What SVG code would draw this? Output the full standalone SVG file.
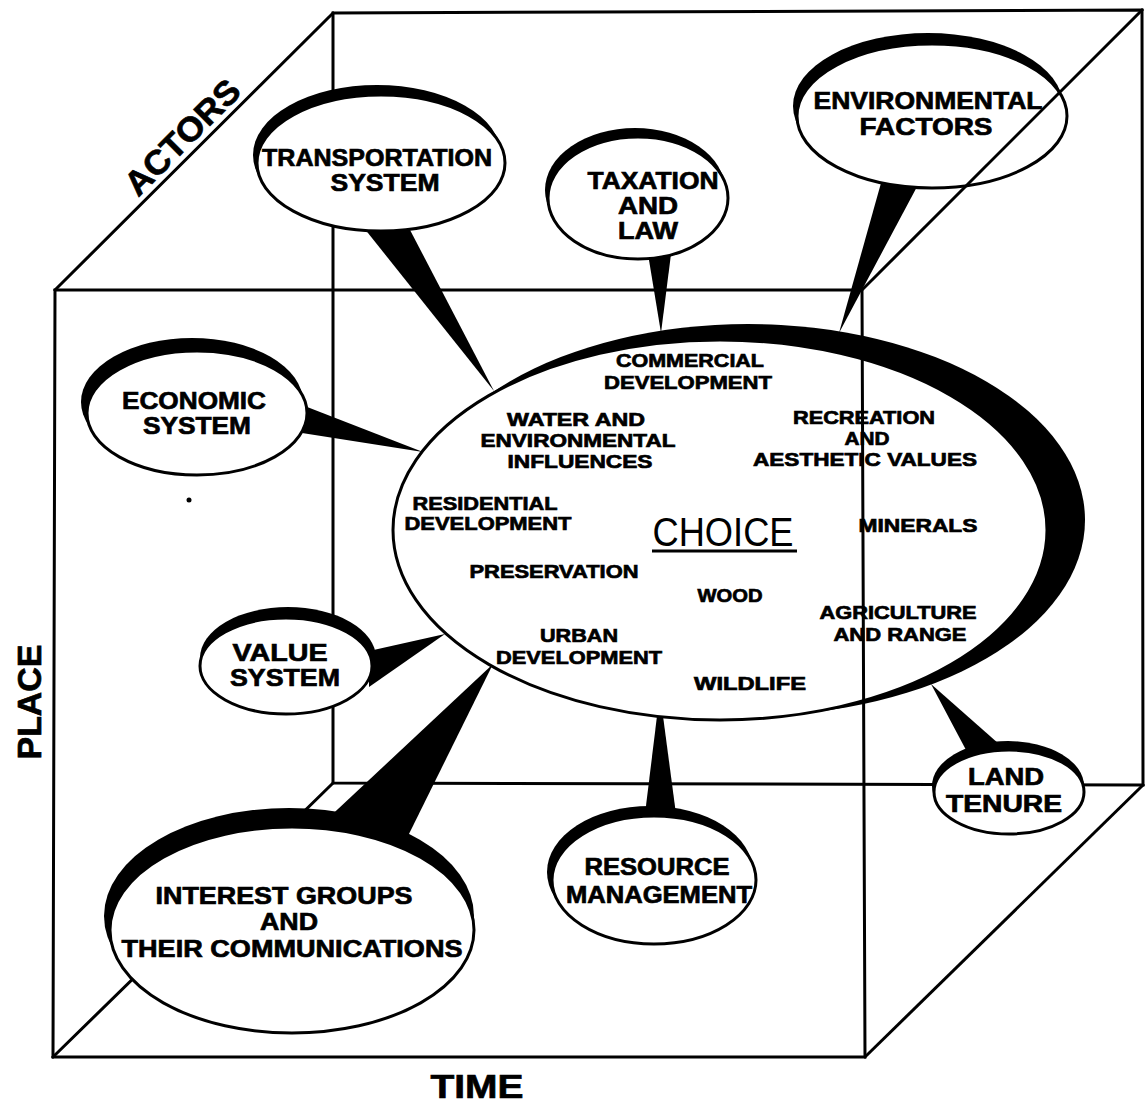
<svg xmlns="http://www.w3.org/2000/svg" width="1146" height="1106" viewBox="0 0 1146 1106">
<style>
.cube{stroke:#000;stroke-width:3;fill:none;stroke-linecap:square}
.shadow{fill:#000}
.bubble{fill:#fff;stroke:#000;stroke-width:3}
.wedge{fill:#000}
.t{font-family:"Liberation Sans",Arial,sans-serif;font-weight:bold;fill:#000;stroke:#000;stroke-width:0.7;text-anchor:middle}
.bt{font-size:24px}
.ct{font-size:19px}
.ax{font-size:34px}
</style>
<rect width="1146" height="1106" fill="#fff"/>
<g id="connectors">
<polygon class="wedge" points="364,228 409,228 494,391"/>
<polygon class="wedge" points="648,254 671,254 661,333"/>
<polygon class="wedge" points="881,183 919,183 839,333"/>
<polygon class="wedge" points="302,405 302,433 423,452"/>
<polygon class="wedge" points="369,651 369,687 445,634"/>
<polygon class="wedge" points="322,824 406,840 493,664"/>
<polygon class="wedge" points="645,814 676,814 663,716 657,716"/>
<polygon class="wedge" points="931,684 966,750 999,744"/>
</g>
<g id="choice">
<ellipse class="shadow" cx="748" cy="520" rx="337" ry="196"/>
<ellipse class="bubble" cx="720" cy="530" rx="327" ry="190"/>
<text class="t ct" x="690" y="367" textLength="148" lengthAdjust="spacingAndGlyphs">COMMERCIAL</text>
<text class="t ct" x="688" y="389" textLength="168" lengthAdjust="spacingAndGlyphs">DEVELOPMENT</text>
<text class="t ct" x="576" y="426" textLength="138" lengthAdjust="spacingAndGlyphs">WATER AND</text>
<text class="t ct" x="578" y="447" textLength="195" lengthAdjust="spacingAndGlyphs">ENVIRONMENTAL</text>
<text class="t ct" x="580" y="468" textLength="145" lengthAdjust="spacingAndGlyphs">INFLUENCES</text>
<text class="t ct" x="864" y="424" textLength="142" lengthAdjust="spacingAndGlyphs">RECREATION</text>
<text class="t ct" x="867" y="445" textLength="45" lengthAdjust="spacingAndGlyphs">AND</text>
<text class="t ct" x="865" y="466" textLength="224" lengthAdjust="spacingAndGlyphs">AESTHETIC VALUES</text>
<text class="t ct" x="485" y="510" textLength="145" lengthAdjust="spacingAndGlyphs">RESIDENTIAL</text>
<text class="t ct" x="488" y="530" textLength="167" lengthAdjust="spacingAndGlyphs">DEVELOPMENT</text>
<text x="723" y="546" font-family="'Liberation Sans',Arial,sans-serif" font-size="40" text-anchor="middle" textLength="141" lengthAdjust="spacingAndGlyphs">CHOICE</text>
<line x1="652" y1="551" x2="797" y2="551" stroke="#000" stroke-width="3"/>
<text class="t ct" x="918" y="532" textLength="119" lengthAdjust="spacingAndGlyphs">MINERALS</text>
<text class="t ct" x="554" y="578" textLength="169" lengthAdjust="spacingAndGlyphs">PRESERVATION</text>
<text class="t ct" x="730" y="602" textLength="65" lengthAdjust="spacingAndGlyphs">WOOD</text>
<text class="t ct" x="898" y="619" textLength="157" lengthAdjust="spacingAndGlyphs">AGRICULTURE</text>
<text class="t ct" x="900" y="641" textLength="133" lengthAdjust="spacingAndGlyphs">AND RANGE</text>
<text class="t ct" x="579" y="642" textLength="78" lengthAdjust="spacingAndGlyphs">URBAN</text>
<text class="t ct" x="579" y="664" textLength="166" lengthAdjust="spacingAndGlyphs">DEVELOPMENT</text>
<text class="t ct" x="750" y="690" textLength="112" lengthAdjust="spacingAndGlyphs">WILDLIFE</text>
</g>
<g id="environmental">
<ellipse class="shadow" cx="928" cy="106" rx="135" ry="73"/>
<ellipse class="bubble" cx="932" cy="116" rx="135" ry="72"/>
<text class="t bt" x="928" y="109" textLength="229" lengthAdjust="spacingAndGlyphs">ENVIRONMENTAL</text>
<text class="t bt" x="926" y="135" textLength="133" lengthAdjust="spacingAndGlyphs">FACTORS</text>
</g>
<g id="cube">
<polygon class="cube" points="55,290 862,290 865,1057 53,1057"/>
<polygon class="cube" points="333,13 1142,10 1143,785 333,783"/>
<line class="cube" x1="55" y1="290" x2="333" y2="13"/>
<line class="cube" x1="862" y1="290" x2="1142" y2="10"/>
<line class="cube" x1="53" y1="1057" x2="333" y2="783"/>
<line class="cube" x1="865" y1="1057" x2="1143" y2="785"/>
</g>
<g id="transportation">
<ellipse class="shadow" cx="377" cy="155" rx="124" ry="70"/>
<ellipse class="bubble" cx="381" cy="163" rx="124" ry="68"/>
<text class="t bt" x="377" y="166" textLength="230" lengthAdjust="spacingAndGlyphs">TRANSPORTATION</text>
<text class="t bt" x="385" y="191" textLength="109" lengthAdjust="spacingAndGlyphs">SYSTEM</text>
</g>
<g id="taxation">
<ellipse class="shadow" cx="635" cy="190" rx="90" ry="62"/>
<ellipse class="bubble" cx="638" cy="198" rx="90" ry="61"/>
<text class="t bt" x="653" y="189" textLength="131" lengthAdjust="spacingAndGlyphs">TAXATION</text>
<text class="t bt" x="648" y="214" textLength="60" lengthAdjust="spacingAndGlyphs">AND</text>
<text class="t bt" x="648" y="239" textLength="60" lengthAdjust="spacingAndGlyphs">LAW</text>
</g>
<g id="economic">
<ellipse class="shadow" cx="192" cy="402" rx="111" ry="64"/>
<ellipse class="bubble" cx="197" cy="413" rx="110" ry="62"/>
<text class="t bt" x="194" y="409" textLength="144" lengthAdjust="spacingAndGlyphs">ECONOMIC</text>
<text class="t bt" x="197" y="434" textLength="108" lengthAdjust="spacingAndGlyphs">SYSTEM</text>
</g>
<g id="value">
<ellipse class="shadow" cx="288" cy="658" rx="88" ry="51"/>
<ellipse class="bubble" cx="286" cy="666" rx="86" ry="48"/>
<text class="t bt" x="280" y="661" textLength="95" lengthAdjust="spacingAndGlyphs">VALUE</text>
<text class="t bt" x="285" y="686" textLength="110" lengthAdjust="spacingAndGlyphs">SYSTEM</text>
</g>
<g id="interest">
<ellipse class="shadow" cx="289" cy="916" rx="185" ry="108"/>
<ellipse class="bubble" cx="292" cy="930" rx="182" ry="103"/>
<text class="t bt" x="284" y="904" textLength="257" lengthAdjust="spacingAndGlyphs">INTEREST GROUPS</text>
<text class="t bt" x="289" y="930" textLength="58" lengthAdjust="spacingAndGlyphs">AND</text>
<text class="t bt" x="292" y="957" textLength="341" lengthAdjust="spacingAndGlyphs">THEIR COMMUNICATIONS</text>
</g>
<g id="resource">
<ellipse class="shadow" cx="650" cy="872" rx="103" ry="66"/>
<ellipse class="bubble" cx="654" cy="880" rx="102" ry="64"/>
<text class="t bt" x="657" y="875" textLength="145" lengthAdjust="spacingAndGlyphs">RESOURCE</text>
<text class="t bt" x="659" y="903" textLength="186" lengthAdjust="spacingAndGlyphs">MANAGEMENT</text>
</g>
<g id="landtenure">
<ellipse class="shadow" cx="1008" cy="786" rx="76" ry="45"/>
<ellipse class="bubble" cx="1009" cy="792" rx="75" ry="42"/>
<text class="t bt" x="1006" y="785" textLength="76" lengthAdjust="spacingAndGlyphs">LAND</text>
<text class="t bt" x="1004" y="812" textLength="116" lengthAdjust="spacingAndGlyphs">TENURE</text>
</g>
<g id="axes">
<text class="t ax" transform="translate(182,137) rotate(-45)" x="0" y="12" textLength="148" lengthAdjust="spacingAndGlyphs">ACTORS</text>
<text class="t ax" transform="translate(29,702) rotate(-90)" x="0" y="12" textLength="115" lengthAdjust="spacingAndGlyphs">PLACE</text>
<text class="t ax" x="477" y="1098" textLength="93" lengthAdjust="spacingAndGlyphs">TIME</text>
</g>
<circle cx="189" cy="500" r="2.5" fill="#000"/>
</svg>
